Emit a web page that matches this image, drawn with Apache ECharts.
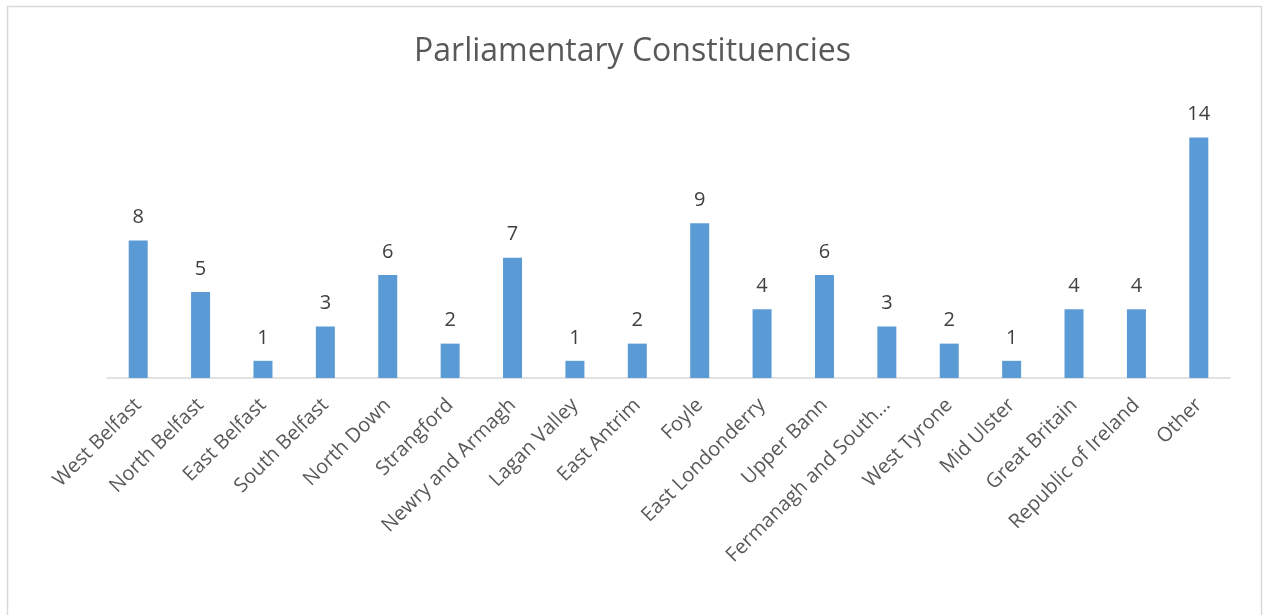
<!DOCTYPE html>
<html>
<head>
<meta charset="utf-8">
<script src="https://cdn.jsdelivr.net/npm/echarts@6/dist/echarts.min.js"></script>
<style>
  html, body { margin: 0; padding: 0; background: #fff; }
  #chart { width: 1265px; height: 615px; }
</style>
</head>
<body>
<div id="chart"></div>
<script>
// Constituency names and counts
const categories = [
  'West Belfast', 'North Belfast', 'East Belfast', 'South Belfast', 'North Down',
  'Strangford', 'Newry and Armagh', 'Lagan Valley', 'East Antrim', 'Foyle',
  'East Londonderry', 'Upper Bann', 'Fermanagh and South Tyrone', 'West Tyrone',
  'Mid Ulster', 'Great Britain', 'Republic of Ireland', 'Other'
];
const counts = [8, 5, 1, 3, 6, 2, 7, 1, 2, 9, 4, 6, 3, 2, 1, 4, 4, 14];

const textColor = '#595959';
const fontFamily = '"Open Sans", "Noto Sans", sans-serif';

const chart = echarts.init(document.getElementById('chart'));
chart.setOption({
  animation: false,
  title: {
    text: 'Parliamentary Constituencies',
    left: 'center',
    top: 31,
    textStyle: { color: textColor, fontSize: 32, fontWeight: 'normal', fontFamily: fontFamily }
  },
  graphic: [{
    type: 'rect',
    shape: { x: 7.5, y: 6.5, width: 1254, height: 640 },
    style: { fill: 'none', stroke: '#D9D9D9', lineWidth: 1.5 },
    silent: true
  }],
  grid: { left: 107, right: 35, top: 103, bottom: 237 },
  xAxis: {
    type: 'category',
    data: categories,
    axisLine: { lineStyle: { color: '#D9D9D9', width: 1.5 } },
    axisTick: { show: false },
    axisLabel: {
      interval: 0,
      rotate: 45,
      margin: 24,
      color: textColor,
      fontSize: 20,
      fontFamily: fontFamily,
      formatter: function (v) { return v.length > 20 ? v.slice(0, 19) + '…' : v; }
    }
  },
  yAxis: {
    type: 'value',
    min: 0,
    max: 16,
    show: false
  },
  series: [{
    type: 'bar',
    data: counts,
    barWidth: 19,
    itemStyle: { color: '#5B9BD5' },
    label: {
      show: true,
      position: 'top',
      distance: 13,
      color: '#404040',
      fontSize: 20,
      fontFamily: fontFamily
    }
  }]
});
</script>
</body>
</html>
